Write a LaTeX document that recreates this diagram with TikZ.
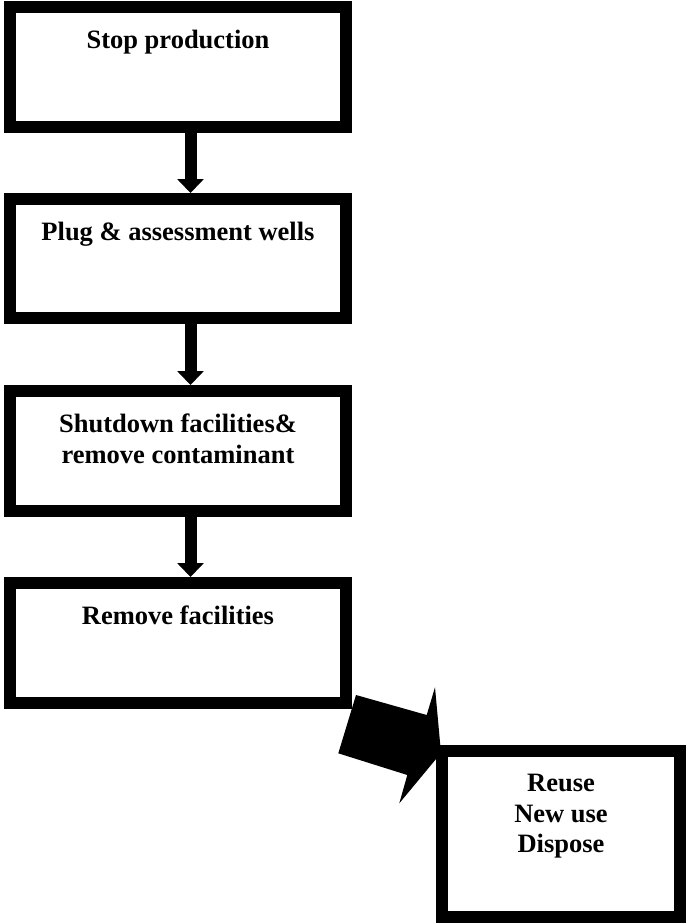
\documentclass[tikz,border=0pt]{standalone}
\usepackage{fontspec}
\setmainfont{Liberation Serif}
\usetikzlibrary{arrows.meta,calc}

\tikzset{
  stepbox/.style={draw=black, line width=12pt, fill=white, rectangle,
    inner sep=0pt},
  steptext/.style={anchor=north, inner sep=0pt, align=center,
    font=\fontsize{26.5}{30.5}\selectfont\bfseries},
  flowarrow/.style={line width=12pt, -{Triangle[width=26pt,length=14pt]}}
}

\begin{document}
\begin{tikzpicture}[x=1pt,y=-1pt]
  \useasboundingbox (0,0) rectangle (686,924);

  % wide block arrow leading to the last step
  \fill[black] (356,695) -- (426.7,715) -- (435,687.3) -- (441,753)
     -- (399.3,803.3) -- (407.3,775) -- (338.3,753.3) -- cycle;

  % the process steps
  \node[stepbox, minimum width=336pt, minimum height=120pt] (b1) at (178,67) {};
  \node[stepbox, minimum width=336pt, minimum height=119pt] (b2) at (178,258.5) {};
  \node[stepbox, minimum width=336pt, minimum height=120pt] (b3) at (178,451) {};
  \node[stepbox, minimum width=336pt, minimum height=120pt] (b4) at (178,643) {};
  \node[stepbox, minimum width=238pt, minimum height=166pt] (b5) at (561,834) {};

  % step labels, set near the top of each box
  \node[steptext] (t1) at ($(b1.north)+(0,29)$) {Stop production};
  \node[steptext] (t2) at ($(b2.north)+(0,29)$) {Plug \& assessment wells};
  \node[steptext] (t3) at ($(b3.north)+(0,29)$) {Shutdown facilities\&\\remove contaminant};
  \node[steptext] (t4) at ($(b4.north)+(0,29)$) {Remove facilities};
  \node[steptext] (t5) at ($(b5.north)+(0,29)$) {Reuse\\New use\\Dispose};

  % arrows between consecutive steps
  \draw[flowarrow] ([xshift=12.5pt]b1.south) -- ([xshift=12.5pt]b2.north);
  \draw[flowarrow] ([xshift=12.5pt]b2.south) -- ([xshift=12.5pt]b3.north);
  \draw[flowarrow] ([xshift=12.5pt]b3.south) -- ([xshift=12.5pt]b4.north);
\end{tikzpicture}
\end{document}
